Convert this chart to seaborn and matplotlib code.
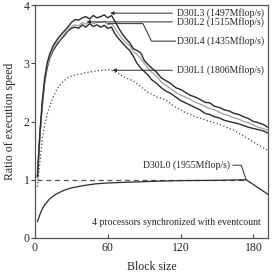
import numpy as np
import pandas as pd
import matplotlib
matplotlib.use("Agg")
import matplotlib.pyplot as plt
import seaborn as sns

# block sizes and speed ratios
block = [2, 4, 6, 8, 10, 12, 15, 18, 21, 24, 27, 30, 33, 36, 39, 42, 45, 48, 51, 54,
         57, 60, 63, 66, 69, 72, 75, 78, 81, 84, 87, 90, 93, 96, 100, 104, 108, 112,
         116, 120, 124, 128, 132, 136, 140, 144, 148, 152, 156, 160, 164, 168, 172,
         176, 180, 184, 188, 192]

d30l3 = [1.05, 1.8, 2.35, 2.75, 3.0, 3.15, 3.3, 3.4, 3.48, 3.55, 3.62, 3.7, 3.75, 3.74,
         3.78, 3.8, 3.76, 3.82, 3.78, 3.8, 3.83, 3.78, 3.82, 3.72, 3.6, 3.5, 3.42, 3.35,
         3.25, 3.22, 3.18, 3.05, 2.98, 2.92, 2.85, 2.75, 2.7, 2.65, 2.58, 2.55, 2.5, 2.45,
         2.42, 2.38, 2.33, 2.32, 2.26, 2.24, 2.2, 2.18, 2.14, 2.12, 2.08, 2.05, 2.0, 1.98,
         1.95, 1.9]

d30l2 = [1.05, 1.75, 2.3, 2.7, 2.95, 3.1, 3.25, 3.35, 3.42, 3.5, 3.57, 3.63, 3.66, 3.64,
         3.7, 3.67, 3.72, 3.68, 3.7, 3.7, 3.72, 3.66, 3.68, 3.6, 3.5, 3.42, 3.35, 3.3,
         3.2, 3.15, 3.08, 3.0, 2.92, 2.85, 2.78, 2.68, 2.62, 2.56, 2.5, 2.45, 2.42, 2.38,
         2.33, 2.3, 2.26, 2.22, 2.2, 2.16, 2.12, 2.1, 2.06, 2.04, 2.0, 1.98, 1.94, 1.9,
         1.88, 1.85]

d30l4 = [1.05, 1.75, 2.28, 2.68, 2.92, 3.08, 3.22, 3.32, 3.4, 3.47, 3.55, 3.6, 3.62, 3.6,
         3.66, 3.62, 3.68, 3.63, 3.66, 3.62, 3.65, 3.6, 3.62, 3.5, 3.42, 3.35, 3.28, 3.22,
         3.12, 3.0, 2.92, 2.86, 2.8, 2.72, 2.66, 2.58, 2.52, 2.48, 2.42, 2.36, 2.32, 2.28,
         2.24, 2.2, 2.14, 2.12, 2.08, 2.06, 2.02, 2.0, 1.98, 1.96, 1.93, 1.9, 1.88, 1.86,
         1.84, 1.8]

d30l1 = [0.88, 1.3, 1.7, 1.95, 2.12, 2.25, 2.42, 2.55, 2.64, 2.7, 2.75, 2.78, 2.8, 2.81,
         2.82, 2.84, 2.85, 2.86, 2.87, 2.88, 2.88, 2.89, 2.88, 2.85, 2.82, 2.78, 2.75, 2.72,
         2.7, 2.65, 2.6, 2.55, 2.5, 2.47, 2.42, 2.4, 2.37, 2.3, 2.24, 2.2, 2.15, 2.12,
         2.08, 2.06, 2.03, 2.0, 1.98, 1.95, 1.92, 1.88, 1.85, 1.8, 1.75, 1.7, 1.65, 1.6,
         1.55, 1.5]

block0 = [2, 4, 6, 8, 10, 12, 15, 18, 21, 24, 27, 30, 35, 40, 50, 60, 80, 100, 120, 150, 174, 192]
d30l0 = [0.28, 0.4, 0.5, 0.57, 0.62, 0.67, 0.72, 0.76, 0.79, 0.82, 0.84, 0.86, 0.88, 0.9,
         0.93, 0.945, 0.96, 0.975, 0.985, 0.99, 1.0, 0.75]

ref_x = [2, 174]
ref_y = [1.0, 1.0]

labels = ["D30L3 (1497Mflop/s)", "D30L2 (1515Mflop/s)", "D30L4 (1435Mflop/s)",
          "D30L1 (1806Mflop/s)", "D30L0 (1955Mflop/s)"]

sns.set_style("ticks")
plt.rcParams['font.family'] = ['Liberation Serif', 'DejaVu Serif']

fig = plt.figure(figsize=(2.73, 2.79), dpi=100)
ax = fig.add_axes([35 / 273, 1 - 238 / 279, 233 / 273, 233 / 279])

dark = "#2b2b2b"
sns.lineplot(x=ref_x, y=ref_y, ax=ax, color="#555555", lw=0.9, linestyle=(0, (4, 3)))
sns.lineplot(x=block, y=d30l1, ax=ax, color="#444444", lw=0.9, linestyle=(0, (1, 1.8)))
sns.lineplot(x=block, y=d30l4, ax=ax, color=dark, lw=1.0)
sns.lineplot(x=block, y=d30l2, ax=ax, color="#a0a0a0", lw=0.9)
sns.lineplot(x=block, y=d30l3, ax=ax, color=dark, lw=1.0)
sns.lineplot(x=block0, y=d30l0, ax=ax, color=dark, lw=0.9)

ax.set_xlim(0, 192)
ax.set_ylim(0, 4)
ax.set_xticks([0, 60, 120, 180])
ax.set_yticks([0, 1, 2, 3, 4])
ax.tick_params(axis='x', direction='in', length=3, labelsize=8.5, color="#444444", pad=3)
ax.tick_params(axis='y', direction='out', length=3, labelsize=8.5, color="#444444", pad=1)
for s in ax.spines.values():
    s.set_color("#555555")
    s.set_linewidth(0.9)

ax.set_xlabel("Block size", fontsize=8.5, labelpad=5)
ax.set_ylabel("Ratio of execution speed", fontsize=8.5, labelpad=5)

tfs = 7.0
arrow = dict(arrowstyle="-|>", color=dark, lw=0.7, mutation_scale=5, shrinkA=1, shrinkB=0)
ax.annotate(labels[0], xy=(62, 3.86), xytext=(117, 3.86), fontsize=tfs, va='center', arrowprops=arrow)
ax.annotate(labels[1], xy=(42.5, 3.71), xytext=(117, 3.71), fontsize=tfs, va='center', arrowprops=arrow)
ax.text(117, 3.38, labels[2], fontsize=tfs, va='center')
ax.plot([116, 96, 89, 60], [3.38, 3.38, 3.68, 3.68], color=dark, lw=0.7)
ax.annotate(labels[3], xy=(64, 2.88), xytext=(117, 2.88), fontsize=tfs, va='center', arrowprops=arrow)
ax.text(160.5, 1.25, labels[4], fontsize=tfs, va='center', ha='right')
ax.plot([163, 170, 174], [1.25, 1.25, 1.0], color=dark, lw=0.7)

ax.text(186, 0.26, "4 processors synchronized with eventcount", fontsize=tfs,
        ha='right', va='center')

fig.savefig("out.png", dpi=100)
